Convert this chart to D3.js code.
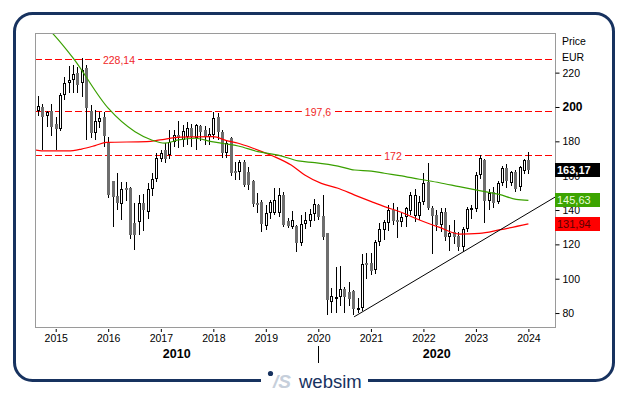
<!DOCTYPE html>
<html>
<head>
<meta charset="utf-8">
<script src="https://cdn.jsdelivr.net/npm/d3@7"></script>
<style>
body { margin: 0; background: #fff; }
svg text { font-family: "Liberation Sans", Arial, sans-serif; }
</style>
</head>
<body>
<svg width="629" height="395"></svg>
<script>
// monthly candles, first one is Sep 2014
var firstMonth = [2014, 8];
var opens = [197.9, 199.8, 194.8, 197.9, 190.1, 187.4, 207.0, 213.8, 215.7, 219.6, 213.8, 222.5,
    197.7, 185.0, 191.4, 194.4, 179.8, 156.9, 148.1, 143.5, 152.6, 153.0, 132.6, 133.2,
    144.3, 139.0, 152.0, 157.8, 170.0, 175.0, 172.0, 179.8, 183.7, 180.8, 182.3, 187.6,
    181.8, 188.9, 186.6, 182.3, 183.7, 194.0, 185.6, 173.0, 181.8, 162.9, 162.3, 168.2,
    162.3, 156.9, 144.3, 144.9, 130.7, 138.0, 138.0, 138.0, 148.7, 133.8, 130.3, 130.7,
    121.0, 131.8, 133.8, 137.7, 142.9, 136.5, 126.4, 86.6, 89.0, 89.5, 93.8, 92.4,
    92.8, 82.5, 82.7, 109.2, 108.9, 105.0, 121.6, 128.4, 132.6, 140.0, 134.2, 133.2,
    135.7, 139.6, 136.5, 136.5, 144.9, 156.5, 141.0, 137.1, 131.3, 139.0, 124.1, 127.4,
    124.9, 118.3, 128.7, 140.4, 140.4, 160.4, 169.1, 145.5, 150.7, 144.9, 155.9, 164.3,
    155.5, 162.3, 153.2, 162.9, 169.1];
var highs = [206.4, 201.7, 197.5, 201.5, 194.4, 208.3, 217.3, 223.9, 224.5, 223.5, 228.3, 224.5,
    201.2, 198.2, 197.3, 197.3, 182.7, 157.0, 161.3, 156.5, 156.5, 153.2, 143.9, 148.7,
    149.1, 155.5, 161.7, 173.0, 174.9, 178.8, 186.6, 186.6, 191.8, 189.5, 191.4, 190.0,
    190.0, 189.5, 188.9, 187.6, 196.9, 196.3, 186.6, 180.8, 182.7, 168.2, 169.1, 169.1,
    165.3, 157.5, 149.7, 145.8, 142.9, 145.8, 152.6, 152.6, 150.7, 135.1, 139.6, 131.3,
    137.0, 139.0, 140.4, 146.2, 143.5, 148.7, 126.4, 94.4, 107.0, 107.6, 95.3, 98.3,
    93.4, 88.5, 114.4, 114.8, 115.1, 122.5, 132.2, 134.0, 142.9, 143.9, 142.0, 138.1,
    142.0, 150.7, 152.0, 148.0, 161.4, 167.6, 142.5, 140.0, 141.2, 141.2, 131.3, 134.0,
    127.0, 130.0, 142.0, 142.9, 162.0, 172.2, 170.0, 152.0, 153.5, 157.0, 165.7, 166.6,
    163.0, 163.2, 165.7, 170.0, 173.5];
var lows = [194.7, 174.9, 188.5, 183.3, 174.9, 186.0, 204.1, 208.0, 208.3, 208.3, 206.0, 180.8,
    181.7, 180.8, 188.0, 176.9, 146.8, 130.3, 140.0, 134.2, 145.0, 123.0, 116.7, 125.4,
    128.0, 135.0, 148.0, 156.5, 168.0, 167.2, 170.0, 176.9, 176.0, 176.9, 178.0, 176.9,
    175.0, 180.0, 177.8, 178.0, 181.2, 181.0, 170.1, 170.1, 160.0, 157.5, 157.5, 153.5,
    151.7, 142.0, 138.0, 127.4, 128.3, 135.0, 137.0, 136.0, 130.3, 129.3, 129.0, 115.7,
    119.0, 129.0, 130.0, 133.8, 134.0, 122.5, 78.8, 79.8, 80.0, 84.0, 79.8, 84.0,
    78.8, 80.0, 81.0, 100.0, 102.0, 103.0, 119.0, 122.5, 128.0, 131.0, 123.5, 130.3,
    129.9, 137.0, 133.0, 134.0, 143.0, 140.0, 114.2, 128.0, 127.0, 122.0, 116.4, 120.0,
    116.4, 115.5, 127.0, 135.0, 139.0, 158.0, 132.6, 140.0, 141.0, 143.5, 154.0, 153.0,
    154.0, 150.5, 151.0, 161.0, 161.0];
var closes = [200.6, 194.4, 196.9, 188.5, 187.4, 207.0, 213.8, 215.7, 219.2, 212.8, 221.5, 199.2,
    184.7, 191.8, 193.4, 183.1, 148.7, 147.8, 143.9, 152.0, 151.8, 125.4, 125.4, 143.9,
    140.0, 152.0, 157.8, 170.1, 173.0, 170.0, 179.8, 183.7, 181.8, 186.0, 187.6, 182.7,
    189.5, 185.6, 182.7, 184.3, 193.4, 185.6, 173.0, 178.9, 161.8, 161.4, 168.2, 154.6,
    154.6, 143.5, 142.9, 131.8, 138.5, 144.9, 145.8, 148.7, 131.3, 130.7, 134.2, 121.0,
    131.8, 134.2, 137.7, 143.3, 135.7, 124.5, 87.6, 89.9, 89.4, 93.8, 89.5, 87.9,
    82.1, 83.2, 108.5, 108.0, 104.7, 121.6, 128.7, 133.2, 140.0, 133.8, 133.0, 135.7,
    141.2, 148.7, 148.7, 144.9, 155.5, 141.0, 136.5, 131.3, 139.0, 124.1, 126.8, 124.5,
    118.3, 128.7, 140.4, 141.0, 160.4, 170.1, 145.5, 149.7, 144.3, 155.9, 164.3, 157.1,
    162.0, 152.0, 165.3, 169.1, 163.17];

// moving averages (decimal year, value)
var greenT = [2014.60, 2014.954, 2015.333, 2016.0, 2016.51, 2016.825, 2017.075, 2017.333, 2017.65,
    2017.967, 2018.217, 2018.475, 2018.85, 2019.233, 2019.617, 2019.933, 2020.375, 2020.692,
    2021.008, 2021.258, 2021.55, 2021.925, 2022.308, 2022.683, 2023.067, 2023.442, 2023.767, 2024.0];
var greenV = [253.0, 242.4, 228.4, 199.3, 185.6, 180.8, 178.9, 180.8, 181.8,
    179.8, 178.6, 177.3, 174.0, 172.0, 168.6, 167.6, 165.6, 163.3,
    162.7, 161.4, 160.0, 157.9, 155.9, 153.6, 151.3, 149.1, 146.2, 145.63];
var redT = [2014.60, 2014.80, 2015.242, 2015.492, 2015.75, 2015.967, 2016.733, 2016.983, 2017.367,
    2018.0, 2018.25, 2018.475, 2018.758, 2019.133, 2019.483, 2019.742, 2020.058, 2020.375, 2020.692,
    2021.008, 2021.258, 2021.55, 2021.925, 2022.308, 2022.683, 2023.067, 2023.442, 2024.0];
var redV = [175.0, 174.4, 174.4, 175.5, 177.5, 179.4, 179.8, 180.8, 182.4,
    182.7, 180.4, 178.9, 176.0, 171.5, 166.2, 160.4, 155.5, 152.7, 148.7,
    144.9, 142.0, 139.0, 134.2, 129.9, 126.0, 126.4, 128.4, 131.94];

// support line
var trendT = [2020.68, 2024.51];
var trendV = [77.8, 147.6];

// horizontal price levels
var levels = [228.14, 197.6, 172];

var yTicks = [80, 100, 120, 140, 160, 180, 200, 220];
var years = [2015, 2016, 2017, 2018, 2019, 2020, 2021, 2022, 2023, 2024];
var decades = ["2010", "2020"];

var fmt = d3.formatLocale({decimal: ",", thousands: ".", grouping: [3], currency: ["", ""]}).format(".2~f");

function yearToDate(t) {
    var yr = Math.floor(t);
    var s = new Date(yr, 0, 1), e = new Date(yr + 1, 0, 1);
    return new Date(+s + (t - yr) * (e - s));
}

var pLeft = 35, pRight = 555, pTop = 34, pBottom = 328;

var x = d3.scaleTime()
    .domain([new Date(2014, 7, 10), new Date(2024, 6, 4)])
    .range([pLeft, pRight]);
var y = d3.scaleLinear()
    .domain([71.3, 242.5])
    .range([pBottom, pTop]);

var svg = d3.select("svg");

// outer frame
svg.append("rect")
    .attr("x", 14.5).attr("y", 13.5)
    .attr("width", 599).attr("height", 367)
    .attr("rx", 18)
    .attr("fill", "none")
    .attr("stroke", "#17325f")
    .attr("stroke-width", 3);

svg.append("clipPath").attr("id", "plotClip")
    .append("rect")
    .attr("x", pLeft + 1).attr("y", pTop)
    .attr("width", pRight - pLeft - 1).attr("height", pBottom - pTop);

// price levels
var lev = svg.append("g");
var levelLabelX = [119, 318, 393];
levels.forEach(function (v, i) {
    var yy = Math.round(y(v)) + 0.5;
    lev.append("path")
        .attr("d", "M" + pLeft + "," + yy + "H" + pRight)
        .style("stroke", "#ff0000")
        .style("stroke-width", "1px")
        .style("stroke-dasharray", "7,3")
        .style("fill", "none")
        .style("shape-rendering", "crispEdges");
    var bg = lev.append("rect").attr("fill", "#fff");
    var t = lev.append("text")
        .attr("x", levelLabelX[i]).attr("y", yy + 4)
        .attr("text-anchor", "middle")
        .attr("font-size", "10.5px")
        .attr("fill", "#f02828")
        .text(fmt(v));
    var bb = t.node().getBBox();
    bg.attr("x", bb.x - 3).attr("y", yy - 3)
        .attr("width", bb.width + 6).attr("height", 6);
});

// candles
var plot = svg.append("g").attr("clip-path", "url(#plotClip)");
var candles = opens.map(function (o, i) {
    return {
        date: new Date(firstMonth[0], firstMonth[1] + i, 1),
        o: o, h: highs[i], l: lows[i], c: closes[i]
    };
});

var cg = plot.selectAll("g.candle")
    .data(candles)
    .enter().append("g")
    .attr("class", "candle");

cg.append("line")
    .attr("x1", function (d) { return Math.round(x(d.date)) + 0.5; })
    .attr("x2", function (d) { return Math.round(x(d.date)) + 0.5; })
    .attr("y1", function (d) { return Math.round(y(d.h)); })
    .attr("y2", function (d) { return Math.round(y(d.l)); })
    .attr("stroke", "#000");

cg.append("rect")
    .attr("x", function (d) {
        var cx = Math.round(x(d.date));
        return d.c >= d.o ? cx - 0.5 : cx - 1;
    })
    .attr("y", function (d) {
        var t = Math.round(y(Math.max(d.o, d.c)));
        return d.c >= d.o ? t + 0.5 : t;
    })
    .attr("width", function (d) { return d.c >= d.o ? 2 : 3; })
    .attr("height", function (d) {
        var h = Math.max(1, Math.round(y(Math.min(d.o, d.c))) - Math.round(y(Math.max(d.o, d.c))));
        return d.c >= d.o ? Math.max(1, h - 1) : h;
    })
    .attr("fill", function (d) { return d.c >= d.o ? "#fff" : "#6e6e6e"; })
    .attr("stroke", function (d) { return d.c >= d.o ? "#000" : "none"; })
    .attr("stroke-width", 1);

// moving averages
var line = d3.line()
    .x(function (d) { return x(yearToDate(d[0])); })
    .y(function (d) { return y(d[1]); })
    .curve(d3.curveMonotoneX);

plot.append("path")
    .datum(redT.map(function (t, i) { return [t, redV[i]]; }))
    .attr("d", line)
    .attr("fill", "none")
    .attr("stroke", "#ff0000")
    .attr("stroke-width", 1.2);

plot.append("path")
    .datum(greenT.map(function (t, i) { return [t, greenV[i]]; }))
    .attr("d", line)
    .attr("fill", "none")
    .attr("stroke", "#3aa000")
    .attr("stroke-width", 1.2);

plot.append("path")
    .datum(trendT.map(function (t, i) { return [t, trendV[i]]; }))
    .attr("d", d3.line()
        .x(function (d) { return x(yearToDate(d[0])); })
        .y(function (d) { return y(d[1]); }))
    .attr("fill", "none")
    .attr("stroke", "#000")
    .attr("stroke-width", 1);

// plot border
svg.append("rect")
    .attr("x", pLeft + 0.5).attr("y", pTop - 0.5)
    .attr("width", pRight - pLeft).attr("height", pBottom - pTop)
    .attr("fill", "none")
    .attr("stroke", "#9a9a9a");

// right axis
var ya = svg.append("g")
    .attr("transform", "translate(" + (pRight + 0.5) + ",0)")
    .call(d3.axisRight(y).tickValues(yTicks).tickSize(4).tickPadding(3));
ya.select(".domain").remove();
ya.selectAll("text")
    .attr("font-family", null)
    .style("font-size", function (d) { return d === 200 ? "12px" : "10.5px"; })
    .style("font-weight", function (d) { return d === 200 ? "bold" : "normal"; })
    .attr("fill", "#000");
ya.selectAll("line").attr("stroke", "#000");

svg.append("text").attr("x", 562).attr("y", 45).attr("font-size", "10.5px").text("Price");
svg.append("text").attr("x", 562).attr("y", 61).attr("font-size", "10.5px").text("EUR");

// last value boxes
var boxes = [
    {v: closes[closes.length - 1], bg: "#000", fg: "#fff", bold: true},
    {v: greenV[greenV.length - 1], bg: "#3ca400", fg: "#eaffd8", bold: false},
    {v: redV[redV.length - 1], bg: "#ff0000", fg: "#5a0000", bold: false}
];
boxes.forEach(function (b) {
    var yy = y(b.v);
    svg.append("rect")
        .attr("x", pRight).attr("y", Math.round(yy) - 7)
        .attr("width", 45).attr("height", 14)
        .attr("fill", b.bg);
    svg.append("text")
        .attr("x", pRight + 2).attr("y", Math.round(yy) + 4)
        .attr("font-size", "11px")
        .attr("font-weight", b.bold ? "bold" : "normal")
        .attr("fill", b.fg)
        .text(fmt(b.v));
});

// bottom axis
var xa = svg.append("g")
    .attr("transform", "translate(0," + (pBottom + 1) + ")")
    .call(d3.axisBottom(x)
        .tickValues(years.map(function (yr) { return new Date(yr, 0, 1); }))
        .tickFormat(d3.timeFormat("%Y"))
        .tickSize(3).tickPadding(3));
xa.select(".domain").remove();
xa.selectAll("text").attr("font-family", null).style("font-size", "10.5px").attr("fill", "#000");
xa.selectAll("line").attr("stroke", "#000");

var x2020 = Math.round(x(new Date(2020, 0, 1))) + 0.5;
svg.append("line")
    .attr("x1", x2020).attr("x2", x2020)
    .attr("y1", 346).attr("y2", 363)
    .attr("stroke", "#000");
var decadeX = [(pLeft + x2020) / 2, (x2020 + pRight) / 2];
decades.forEach(function (d, i) {
    svg.append("text")
        .attr("x", decadeX[i]).attr("y", 358)
        .attr("text-anchor", "middle")
        .attr("font-size", "12.5px")
        .attr("font-weight", "bold")
        .text(d);
});

// logo on the bottom edge
svg.append("rect").attr("x", 261).attr("y", 376).attr("width", 107).attr("height", 10).attr("fill", "#fff");
svg.append("circle").attr("cx", 270.5).attr("cy", 373.5).attr("r", 2.6).attr("fill", "#17325f");
svg.append("text")
    .attr("x", 273).attr("y", 388)
    .attr("font-size", "19px")
    .attr("font-weight", "bold")
    .attr("font-style", "italic")
    .attr("fill", "#c6cfdb")
    .text("/S");
svg.append("text")
    .attr("x", 299).attr("y", 388)
    .attr("font-size", "18.5px")
    .attr("fill", "#17325f")
    .text("websim");
</script>
</body>
</html>
